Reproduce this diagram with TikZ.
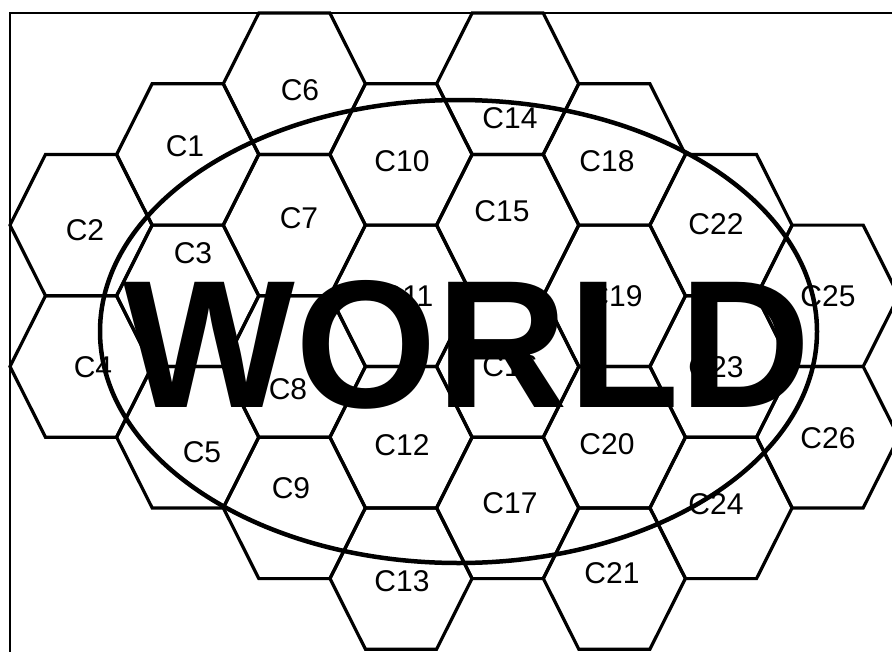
\documentclass[tikz,border=0pt]{standalone}
\usepackage{fontspec}
\setmainfont{Liberation Sans}
\begin{document}
\begin{tikzpicture}[x=1pt,y=-1pt,
  hexline/.style={line width=3.2pt, line join=miter},
  lbl/.style={font=\fontsize{30}{30}\selectfont, inner sep=0pt, anchor=center},
  framestyle/.style={line width=2.2pt},
  worldring/.style={line width=4.5pt}]
\useasboundingbox (0,0) rectangle (892,651);
\begin{scope}
\clip (0,0) rectangle (892,651);
\fill[white] (0,0) rectangle (892,651);
% frame
\draw[framestyle] (10,700) -- (10,13) -- (900,13);
% hexagonal cells: column k, half-row m
\foreach \k/\m in {0/3,0/5, 1/2,1/4,1/6, 2/1,2/3,2/5,2/7, 3/2,3/4,3/6,3/8,
                   4/1,4/3,4/5,4/7, 5/2,5/4,5/6,5/8, 6/3,6/5,6/7, 7/4,7/6}{
  \pgfmathsetmacro\cx{81+106.67*\k}
  \pgfmathsetmacro\cy{13+70.7*\m}
  \draw[hexline] ({\cx-71},\cy) -- ({\cx-35.5},{\cy-70.7}) -- ({\cx+35.5},{\cy-70.7})
     -- ({\cx+71},\cy) -- ({\cx+35.5},{\cy+70.7}) -- ({\cx-35.5},{\cy+70.7}) -- cycle;
}
% cell labels
\node[lbl] (c1)  at (185,146) {C1};
\node[lbl] (c2)  at (85,230)  {C2};
\node[lbl] (c3)  at (193,253) {C3};
\node[lbl] (c4)  at (93,367)  {C4};
\node[lbl] (c5)  at (202,452) {C5};
\node[lbl] (c6)  at (300,90)  {C6};
\node[lbl] (c7)  at (299,218) {C7};
\node[lbl] (c8)  at (288,389) {C8};
\node[lbl] (c9)  at (291,488) {C9};
\node[lbl] (c10) at (402,161) {C10};
\node[lbl] (c11) at (407,296) {C11};
\node[lbl] (c12) at (402,445) {C12};
\node[lbl] (c13) at (402,581) {C13};
\node[lbl] (c14) at (510,118) {C14};
\node[lbl] (c15) at (502,211) {C15};
\node[lbl] (c16) at (510,366) {C16};
\node[lbl] (c17) at (510,503) {C17};
\node[lbl] (c18) at (607,161) {C18};
\node[lbl] (c19) at (615,296) {C19};
\node[lbl] (c20) at (607,444) {C20};
\node[lbl] (c21) at (612,573) {C21};
\node[lbl] (c22) at (716,224) {C22};
\node[lbl] (c23) at (716,367) {C23};
\node[lbl] (c24) at (716,504) {C24};
\node[lbl] (c25) at (828,296) {C25};
\node[lbl] (c26) at (828,438) {C26};
% world ellipse
\draw[worldring] (458.5,331.5) ellipse [x radius=358.5pt, y radius=231.5pt];
% big title
\node[font=\fontsize{182}{182}\selectfont\bfseries, anchor=base, inner sep=0pt] (world) at (467,407) {WORLD};
\end{scope}
\end{tikzpicture}
\end{document}
